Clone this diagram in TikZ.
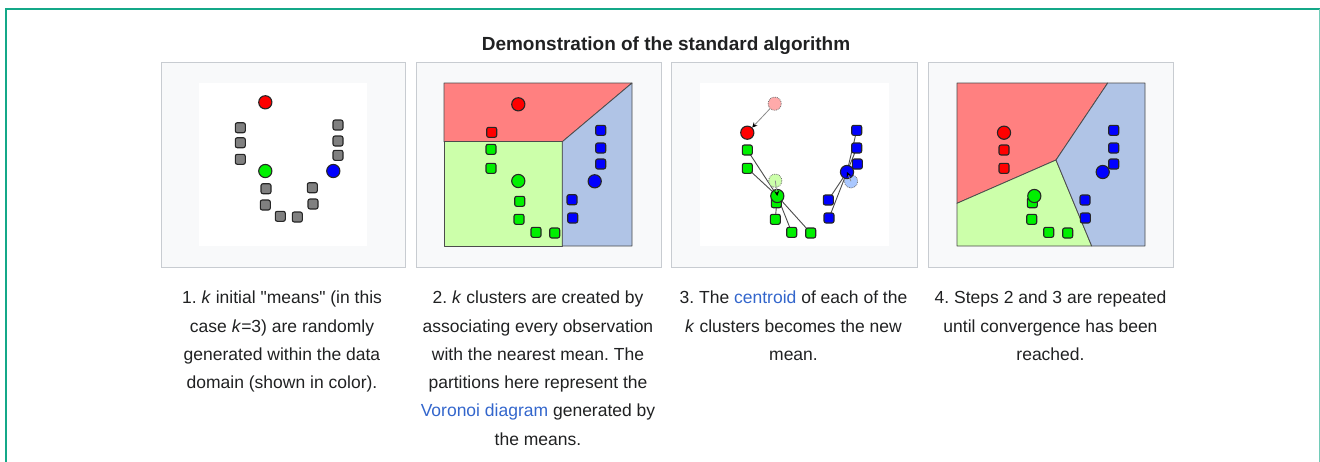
\documentclass[tikz,border=0pt]{standalone}
\usepackage{fontspec}
\setmainfont{Liberation Sans}
\usetikzlibrary{arrows.meta}
\frenchspacing
\definecolor{frameteal}{HTML}{14A888}
\definecolor{panelbd}{HTML}{C8CCD1}
\definecolor{panelbg}{HTML}{F8F9FA}
\definecolor{txt}{HTML}{202122}
\definecolor{link}{HTML}{3366CC}
\definecolor{rreg}{RGB}{255,128,128}
\definecolor{greg}{RGB}{204,255,170}
\definecolor{breg}{RGB}{176,196,230}
\definecolor{ptgray}{RGB}{128,128,128}
\definecolor{pr}{RGB}{255,0,0}
\definecolor{pg}{RGB}{0,240,0}
\definecolor{pb}{RGB}{0,0,255}
\definecolor{fr}{RGB}{255,170,170}
\definecolor{fg}{RGB}{204,255,170}
\definecolor{fb}{RGB}{170,200,255}
\pgfdeclarelayer{back}
\pgfdeclarelayer{links}
\pgfsetlayers{back,links,main}
\tikzset{
  panel/.style={draw=panelbd, fill=panelbg, line width=1pt},
  canvas/.style={fill=white},
  region/.style={draw=black!70, line width=0.8pt, line join=round},
  sq/.style={rectangle, rounded corners=2pt, draw=black!85, line width=1.1pt, minimum size=10pt, inner sep=0pt, fill=#1},
  mn/.style={circle, draw=black!85, line width=1.1pt, minimum size=13.2pt, inner sep=0pt, fill=#1},
  oldmn/.style={circle, draw=black!55, densely dotted, line width=0.8pt, minimum size=13.2pt, inner sep=0pt, fill=#1},
  member/.style={draw=black!70, line width=0.9pt},
  move/.style={draw=black!45, line width=0.8pt, -{Stealth[length=5pt,width=5pt,black]}},
  captxt/.style={anchor=north, align=center, inner sep=0pt, text=txt, font=\fontsize{17.5}{28.3}\selectfont},
}
\begin{document}
\begin{tikzpicture}[x=1pt, y=-1pt]
\useasboundingbox (0,0) rectangle (1320,461);
\clip (0,0) rectangle (1320,461);
\begin{pgfonlayer}{back}
% outer frame
\draw[frameteal, line width=2pt] (5.8,470) -- (5.8,9.2) -- (1330,9.2);
\draw[frameteal!60, line width=1.2pt] (1319.4,9.2) -- (1319.4,470);
% panels
\draw[panel] (161,62) rectangle (405,267);
\draw[panel] (416,62) rectangle (661,267);
\draw[panel] (671,62) rectangle (917,267);
\draw[panel] (928,62) rectangle (1173,267);
\fill[canvas] (199,83) rectangle (367,246);
\fill[canvas] (700,83) rectangle (889,246);
% panel 2 regions
\path[region, fill=rreg] (444,83) -- (632,83) -- (562.3,141.7) -- (444,141.7) -- cycle;
\path[region, fill=greg] (444,141.7) -- (562.3,141.7) -- (562.3,246) -- (444,246) -- cycle;
\path[region, fill=breg] (562.3,141.7) -- (632,83) -- (632,246) -- (562.3,246) -- cycle;
% panel 4 regions
\path[region, fill=rreg] (957,83) -- (1107.7,83) -- (1056,160) -- (957,203.3) -- cycle;
\path[region, fill=greg] (957,203.3) -- (1056,160) -- (1091.7,246) -- (957,246) -- cycle;
\path[region, fill=breg] (1107.7,83) -- (1145,83) -- (1145,246) -- (1091.7,246) -- (1056,160) -- cycle;
\end{pgfonlayer}

% title
\node[anchor=base, text=txt, font=\fontsize{19}{23}\selectfont\bfseries, inner sep=0pt] (title) at (666,50) {Demonstration of the standard algorithm};

% ---------- panel 1 ----------
\node[mn=pr] (a-r) at (265.3,102.3) {};
\node[mn=pg] (a-g) at (265.3,171) {};
\node[mn=pb] (a-b) at (333.3,171) {};
\foreach \n/\x/\y in {1/240.3/127.7, 2/240.3/142.7, 3/240.3/159.3, 4/338/125, 5/338/141, 6/338/155.3, 7/266/188.7, 8/265.3/205, 9/280.3/216.3, 10/297.3/217, 11/312.3/187.7, 12/313/204}
  \node[sq=ptgray] (a-s\n) at (\x,\y) {};

% ---------- panel 2 ----------
\node[mn=pr] (b-r) at (518.3,104.3) {};
\node[sq=pr] (b-r1) at (491.7,132.3) {};
\foreach \n/\x/\y in {1/491/149.3, 2/491/168.3, 3/519.7/201.3, 4/519/219.3, 5/536/232.3, 6/554.7/233}
  \node[sq=pg] (b-g\n) at (\x,\y) {};
\node[mn=pg] (b-g) at (518.3,181) {};
\foreach \n/\x/\y in {1/600.7/130.3, 2/600.7/148, 3/600.7/164, 4/572/199.7, 5/572.7/218}
  \node[sq=pb] (b-b\n) at (\x,\y) {};
\node[mn=pb] (b-b) at (594.7,181.3) {};

% ---------- panel 3 ----------
\node[oldmn=fr] (c-r0) at (774.7,103.7) {};
\node[oldmn=fg] (c-g0) at (775.3,180.7) {};
\node[oldmn=fb] (c-b0) at (851,181.3) {};
\foreach \n/\x/\y in {1/747.3/150, 2/747.3/168.3, 3/776.3/202.7, 4/775.3/219.3, 5/791.7/232.3, 6/810.7/233}
  \node[sq=pg] (c-g\n) at (\x,\y) {};
\foreach \n/\x/\y in {1/856.7/130.3, 2/856.7/148, 3/857.3/164, 4/828.3/200, 5/829/218}
  \node[sq=pb] (c-b\n) at (\x,\y) {};
\node[mn=pr] (c-r) at (747.3,132.7) {};
\node[mn=pg] (c-g) at (777.3,196) {};
\node[mn=pb] (c-b) at (847,172) {};
\begin{pgfonlayer}{links}
\foreach \n in {1,...,6} \draw[member] (c-g\n.center) -- (c-g.center);
\foreach \n in {1,...,5} \draw[member] (c-b\n.center) -- (c-b.center);
\end{pgfonlayer}
\draw[move] (c-r0) -- (c-r);
\draw[move] (c-g0.center) -- (c-g.center);
\draw[move] (c-b0.center) -- (c-b.center);

% ---------- panel 4 ----------
\node[sq=pr] (d-r1) at (1004,150) {};
\node[sq=pr] (d-r2) at (1004,168.3) {};
\node[mn=pr] (d-r) at (1004,132.7) {};
\foreach \n/\x/\y in {1/1032.3/202.7, 2/1031.7/219.3, 3/1048.7/232.3, 4/1067.7/233}
  \node[sq=pg] (d-g\n) at (\x,\y) {};
\node[mn=pg] (d-g) at (1034.3,196) {};
\foreach \n/\x/\y in {1/1113.7/130.3, 2/1113.7/148, 3/1113.7/164, 4/1085/200, 5/1085.3/218}
  \node[sq=pb] (d-b\n) at (\x,\y) {};
\node[mn=pb] (d-b) at (1102.7,172) {};

% ---------- captions ----------
\node[captxt] (cap1) at (282,283.7) {\strut 1. \textit{k} initial \textquotedbl means\textquotedbl\ (in this\\
  case \textit{k}=3) are randomly\\ generated within the data\\ domain (shown in color).};
\node[captxt] (cap2) at (538,283.7) {\strut 2. \textit{k} clusters are created by\\
  associating every observation\\ with the nearest mean. The\\ partitions here represent the\\
  \textcolor{link}{Voronoi diagram} generated by\\ the means.};
\node[captxt] (cap3) at (793.5,283.7) {\strut 3. The \textcolor{link}{centroid} of each of the\\
  \textit{k} clusters becomes the new\\ mean.};
\node[captxt] (cap4) at (1050.5,283.7) {\strut 4. Steps 2 and 3 are repeated\\
  until convergence has been\\ reached.};
\end{tikzpicture}
\end{document}
